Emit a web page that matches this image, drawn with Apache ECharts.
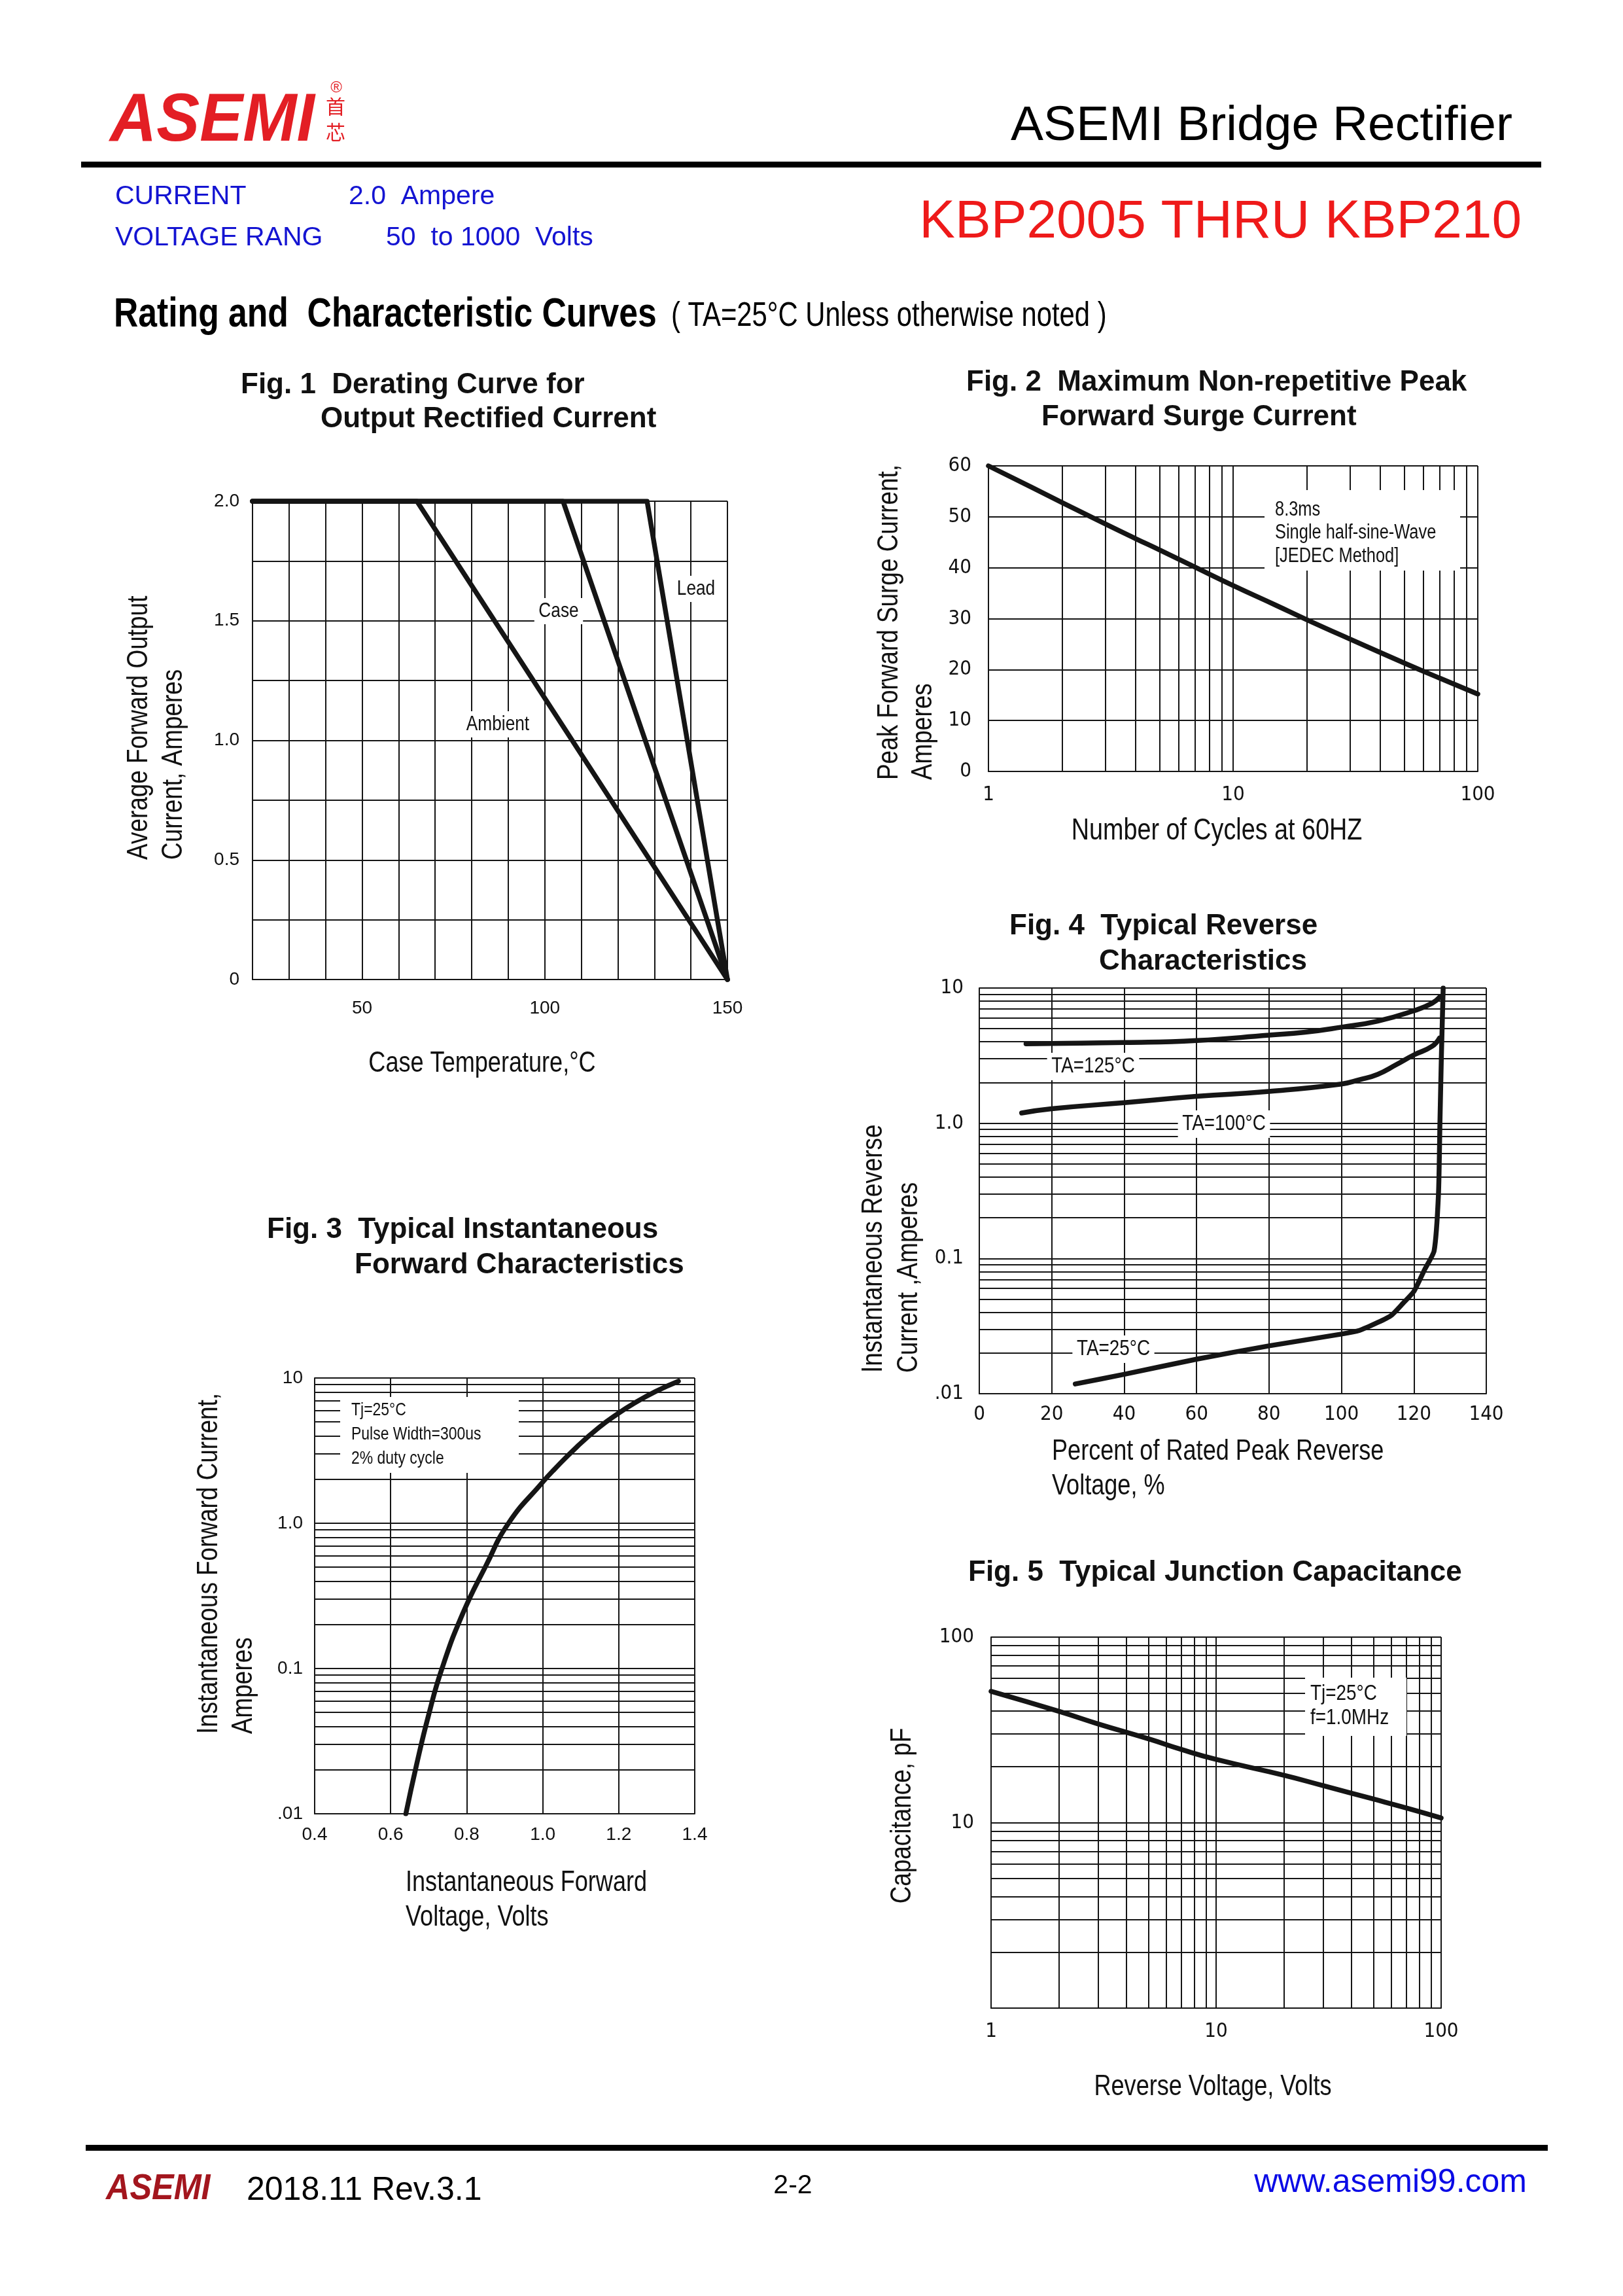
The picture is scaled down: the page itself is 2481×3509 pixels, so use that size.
<!DOCTYPE html>
<html><head><meta charset="utf-8">
<script src="https://cdn.jsdelivr.net/npm/echarts@6/dist/echarts.min.js"></script>
<style>html,body{margin:0;padding:0;background:#fff}#c{width:2481px;height:3509px}</style>
</head><body><div id="c"></div>
<script>
// ---------------- data ----------------
// Fig.1 derating curves  [temperature °C, current A]
const fig1Ambient = [[20, 2.0], [65, 2.0], [150, 0]];
const fig1Case    = [[20, 2.0], [105, 2.0], [150, 0]];
const fig1Lead    = [[20, 2.0], [128, 2.0], [150, 0]];
const fig1XTicks  = [50, 100, 150];
const fig1YTicks  = {0: '0', 0.5: '0.5', 1: '1.0', 1.5: '1.5', 2: '2.0'};

// Fig.2 surge current vs cycles
const fig2Cycles = [1, 1.5, 2, 3, 4, 5, 7, 10, 15, 20, 30, 50, 70, 100];
const fig2Surge  = [60, 55.8, 52.8, 48.6, 45.7, 43.5, 40.1, 36.5, 32.6, 29.8, 26.0, 21.3, 18.3, 15.2];

// Fig.3 forward characteristics
const fig3Volt = [0.64, 0.668, 0.70, 0.735, 0.79, 0.85, 0.91, 1.0, 1.03, 1.09, 1.147, 1.2, 1.236, 1.297, 1.357];
const fig3Amp  = [0.01, 0.0217, 0.048, 0.1, 0.24, 0.506, 1.0, 1.92, 2.34, 3.36, 4.54, 5.73, 6.59, 8.07, 9.5];

// Fig.4 reverse characteristics
const fig4Pct125 = [12.9, 20, 40, 60, 80, 90, 100, 110, 120, 125, 127.2];
const fig4Cur125 = [3.87, 3.89, 3.95, 4.09, 4.48, 4.71, 5.13, 5.69, 6.79, 7.71, 8.6];
const fig4Pct100 = [11.7, 20, 40, 60, 80, 100, 105, 110, 115, 120, 125, 127.1];
const fig4Cur100 = [1.19, 1.28, 1.42, 1.58, 1.72, 1.95, 2.1, 2.3, 2.7, 3.2, 3.7, 4.27];
const fig4Pct25  = [26.5, 40, 60, 80, 100, 105, 110, 113.8, 117, 120, 123, 125.6, 126.8, 127.2, 127.6, 128.1];
const fig4Cur25  = [0.0118, 0.0139, 0.018, 0.0226, 0.0276, 0.0294, 0.0336, 0.038, 0.0466, 0.057, 0.083, 0.114, 0.3, 1.0, 3.1, 10];

// Fig.5 junction capacitance
const fig5Volt = [1, 2, 3, 5, 7, 10, 20, 30, 50, 70, 100];
const fig5Cap  = [51, 39.8, 34, 28.3, 24.8, 21.9, 18, 15.8, 13.4, 12, 10.6];

// tick label texts
const decadeLabels = {'-2': '.01', '-1': '0.1', '0': '1.0', '1': '10', '2': '100'};
const decadeLabelsInt = {'0': '1', '1': '10', '2': '100'};

// ---------------- helpers ----------------
const COND = "'DejaVu Sans Condensed','Liberation Sans',sans-serif";
const ARIAL = "'Liberation Sans',Arial,Helvetica,sans-serif";
const INK = '#151515';
const NS = 0.82; // horizontal squeeze to imitate a condensed face
const zip = (a, b) => a.map((v, i) => [v, b[i]]);
function logMinors(e0, e1) { // minor gridline values 2..9 x 10^k
  const out = [];
  for (let e = e0; e < e1; e++) for (let m = 2; m <= 9; m++) out.push(+(m * Math.pow(10, e)).toPrecision(6));
  return out;
}
function gridSeries(idx, data, xs, ys) {
  const d = [];
  (xs || []).forEach(v => d.push({xAxis: v}));
  (ys || []).forEach(v => d.push({yAxis: v}));
  return {
    type: 'line', xAxisIndex: idx, yAxisIndex: idx, data: data, symbol: 'none', silent: true, z: 1,
    lineStyle: {opacity: 0}, animation: false,
    markLine: {silent: true, symbol: ['none', 'none'], z: 1, animation: false, label: {show: false},
      emphasis: {disabled: true}, lineStyle: {color: INK, width: 2, type: 'solid'}, data: d}
  };
}
function curve(idx, data, smooth) {
  return {type: 'line', xAxisIndex: idx, yAxisIndex: idx, data: data, symbol: 'none', showSymbol: false,
    smooth: smooth, z: 5, silent: true, animation: false,
    lineStyle: {color: INK, width: 7.5, cap: 'round', join: 'round'}};
}
const axLine = {show: true, lineStyle: {color: INK, width: 2}};
const splitL = {show: true, lineStyle: {color: INK, width: 2}};
function logFmt(map) { return v => { const e = String(Math.round(Math.log10(v))); return map[e] || ''; }; }

function txt(x, y, text, o) {
  o = o || {};
  const st = {text: text, fontSize: o.size || 40, fontFamily: o.family || ARIAL, fontWeight: o.weight || 'normal',
    fontStyle: o.style || 'normal', fill: o.color || '#111',
    align: o.align || 'left', verticalAlign: o.valign || 'middle',
    textAlign: o.align || 'left', textVerticalAlign: o.valign || 'middle'};
  if (o.bg) { st.backgroundColor = '#fff'; st.padding = o.pad || [4, 8]; }
  const sx = o.sx === undefined ? NS : o.sx;
  return {type: 'text', x: x, y: y, rotation: o.rot || 0, scaleX: sx, scaleY: 1, z: o.z || 3, silent: true, style: st};
}
function rect(x, y, w, h, fill, z) {
  return {type: 'rect', z: z || 3, silent: true, shape: {x: x, y: y, width: w, height: h}, style: {fill: fill}};
}
const vt = (x, y, s, size) => txt(x, y, s, {rot: Math.PI / 2, size: size || 45});

// ---------------- grids ----------------
const grids = [
  {left: 386, top: 766, width: 726, height: 731},   // fig1
  {left: 1511, top: 712, width: 748, height: 467},  // fig2
  {left: 481, top: 2106, width: 581, height: 666},  // fig3
  {left: 1497, top: 1510, width: 775, height: 620}, // fig4
  {left: 1515, top: 2502, width: 688, height: 567}  // fig5
];

const lblA = (size, margin) => ({color: '#111', fontFamily: ARIAL, fontSize: size, margin: margin, interval: 0});
const lblN = (size, margin) => ({color: '#111', fontFamily: COND, fontSize: size, margin: margin, interval: 0});

const xAxes = [
  {gridIndex: 0, type: 'value', min: 20, max: 150, interval: 10, axisLine: axLine, axisTick: {show: false}, splitLine: splitL,
    axisLabel: Object.assign(lblA(28, 30), {formatter: v => fig1XTicks.indexOf(v) >= 0 ? String(v) : ''})},
  {gridIndex: 1, type: 'log', logBase: 10, min: 1, max: 100, axisLine: axLine, axisTick: {show: false}, splitLine: splitL,
    axisLabel: Object.assign(lblN(31, 20), {formatter: logFmt(decadeLabelsInt)})},
  {gridIndex: 2, type: 'value', min: 0.4, max: 1.4, interval: 0.2, axisLine: axLine, axisTick: {show: false}, splitLine: splitL,
    axisLabel: Object.assign(lblA(28, 18), {formatter: v => v.toFixed(1)})},
  {gridIndex: 3, type: 'value', min: 0, max: 140, interval: 20, axisLine: axLine, axisTick: {show: false}, splitLine: splitL,
    axisLabel: lblN(31, 16)},
  {gridIndex: 4, type: 'log', logBase: 10, min: 1, max: 100, axisLine: axLine, axisTick: {show: false}, splitLine: splitL,
    axisLabel: Object.assign(lblN(31, 20), {formatter: logFmt(decadeLabelsInt)})}
];
const yAxes = [
  {gridIndex: 0, type: 'value', min: 0, max: 2, interval: 0.25, axisLine: axLine, axisTick: {show: false}, splitLine: splitL,
    axisLabel: Object.assign(lblA(28, 20), {formatter: v => fig1YTicks[v] !== undefined ? fig1YTicks[v] : ''})},
  {gridIndex: 1, type: 'value', min: 0, max: 60, interval: 10, axisLine: axLine, axisTick: {show: false}, splitLine: splitL,
    axisLabel: lblN(31, 26)},
  {gridIndex: 2, type: 'log', logBase: 10, min: 0.01, max: 10, axisLine: axLine, axisTick: {show: false}, splitLine: splitL,
    axisLabel: Object.assign(lblA(28, 18), {formatter: logFmt(decadeLabels)})},
  {gridIndex: 3, type: 'log', logBase: 10, min: 0.01, max: 10, axisLine: axLine, axisTick: {show: false}, splitLine: splitL,
    axisLabel: Object.assign(lblN(31, 24), {formatter: logFmt(decadeLabels)})},
  {gridIndex: 4, type: 'log', logBase: 10, min: 1, max: 100, axisLine: axLine, axisTick: {show: false}, splitLine: splitL,
    axisLabel: Object.assign(lblN(31, 26), {formatter: v => { const e = Math.round(Math.log10(v)); return e >= 1 ? decadeLabelsInt[String(e)] : ''; }})}
];

const d2 = zip(fig2Cycles, fig2Surge), d3 = zip(fig3Volt, fig3Amp);
const d4a = zip(fig4Pct125, fig4Cur125), d4b = zip(fig4Pct100, fig4Cur100), d4c = zip(fig4Pct25, fig4Cur25);
const d5 = zip(fig5Volt, fig5Cap);

const series = [
  curve(0, fig1Ambient, false), curve(0, fig1Case, false), curve(0, fig1Lead, false),
  gridSeries(1, d2, logMinors(0, 2), []), curve(1, d2, 0.5),
  gridSeries(2, d3, [], logMinors(-2, 1)), curve(2, d3, 0.5),
  gridSeries(3, d4c, [], logMinors(-2, 1)), curve(3, d4a, 0.5), curve(3, d4b, 0.5), curve(3, d4c, 0.2),
  gridSeries(4, d5, logMinors(0, 2), logMinors(0, 2)), curve(4, d5, 0.5)
];

// ---------------- page texts ----------------
const BLUE = '#1414d2', RED = '#ee1a1a';
const g = [];
// header
g.push(txt(168, 186, 'ASEMI', {weight: 'bold', style: 'italic', size: 104, color: '#e31e24', sx: 0.95}));
g.push(txt(513, 163, '首', {family: "'Noto Sans CJK SC',sans-serif", size: 30, color: '#e31e24', align: 'center', sx: 1}));
g.push(txt(513, 202, '芯', {family: "'Noto Sans CJK SC',sans-serif", size: 30, color: '#e31e24', align: 'center', sx: 1}));
g.push(txt(514, 134, '®', {size: 24, color: '#e31e24', align: 'center', sx: 1}));
g.push(txt(2312, 193, 'ASEMI Bridge Rectifier', {size: 75, color: '#000', align: 'right', sx: 1}));
g.push(rect(124, 247, 2232, 9, '#000'));
g.push(txt(176, 301, 'CURRENT', {size: 41, color: BLUE, sx: 1}));
g.push(txt(533, 301, '2.0  Ampere', {size: 41, color: BLUE, sx: 1}));
g.push(txt(176, 364, 'VOLTAGE RANG', {size: 41, color: BLUE, sx: 1}));
g.push(txt(590, 364, '50  to 1000  Volts', {size: 41, color: BLUE, sx: 1}));
g.push(txt(2326, 340, 'KBP2005 THRU KBP210', {size: 82, color: RED, align: 'right', sx: 1}));
g.push(txt(174, 482, 'Rating and  Characteristic Curves', {weight: 'bold', size: 63, color: '#000'}));
g.push(txt(1026, 484, '( TA=25°C Unless otherwise noted )', {size: 51, color: '#000'}));

// figure titles
const T = {weight: 'bold', size: 44, color: '#111', sx: 1};
g.push(txt(368, 589, 'Fig. 1  Derating Curve for', T));
g.push(txt(490, 641, 'Output Rectified Current', T));
g.push(txt(1477, 585, 'Fig. 2  Maximum Non-repetitive Peak', T));
g.push(txt(1592, 638, 'Forward Surge Current', T));
g.push(txt(1543, 1416, 'Fig. 4  Typical Reverse', T));
g.push(txt(1680, 1470, 'Characteristics', T));
g.push(txt(408, 1880, 'Fig. 3  Typical Instantaneous', T));
g.push(txt(542, 1934, 'Forward Characteristics', T));
g.push(txt(1480, 2404, 'Fig. 5  Typical Junction Capacitance', T));

// axis titles
g.push(vt(213, 1314, 'Average Forward Output'));
g.push(vt(266, 1314, 'Current, Amperes'));
g.push(txt(737, 1626, 'Case Temperature,°C', {size: 44, align: 'center'}));
g.push(vt(1360, 1192, 'Peak Forward Surge Current,'));
g.push(vt(1412, 1192, 'Amperes'));
g.push(txt(1860, 1270, 'Number of Cycles at 60HZ', {size: 46, align: 'center'}));
g.push(vt(320, 2650, 'Instantaneous Forward Current,'));
g.push(vt(373, 2650, 'Amperes'));
g.push(txt(620, 2878, 'Instantaneous Forward', {size: 44}));
g.push(txt(620, 2931, 'Voltage, Volts', {size: 44}));
g.push(vt(1336, 2098, 'Instantaneous Reverse'));
g.push(vt(1390, 2098, 'Current ,Amperes'));
g.push(txt(1608, 2219, 'Percent of Rated Peak Reverse', {size: 44}));
g.push(txt(1608, 2272, 'Voltage, %', {size: 44}));
g.push(txt(1380, 2775, 'Capacitance, pF', {rot: Math.PI / 2, size: 45, align: 'center'}));
g.push(txt(1854, 3190, 'Reverse Voltage, Volts', {size: 44, align: 'center'}));

// in-plot annotations (white boxes interrupt the grid)
g.push(txt(1064, 900, 'Lead', {size: 32, align: 'center', bg: true}));
g.push(txt(854, 934, 'Case', {size: 32, align: 'center', bg: true}));
g.push(txt(761, 1107, 'Ambient', {size: 32, align: 'center', bg: true}));

g.push(rect(1933, 749, 299, 123, '#fff'));
g.push(txt(1949, 779, '8.3ms', {size: 31}));
g.push(txt(1949, 814, 'Single half-sine-Wave', {size: 31}));
g.push(txt(1949, 850, '[JEDEC Method]', {size: 31}));

g.push(rect(520, 2135, 273, 116, '#fff'));
g.push(txt(537, 2155, 'Tj=25°C', {size: 28}));
g.push(txt(537, 2192, 'Pulse Width=300us', {size: 28}));
g.push(txt(537, 2229, '2% duty cycle', {size: 28}));

g.push(txt(1671, 1630, 'TA=125°C', {size: 34, align: 'center', bg: true}));
g.push(txt(1871, 1718, 'TA=100°C', {size: 34, align: 'center', bg: true}));
g.push(txt(1702, 2062, 'TA=25°C', {size: 34, align: 'center', bg: true}));

g.push(rect(1995, 2564, 155, 89, '#fff'));
g.push(txt(2003, 2589, 'Tj=25°C', {size: 34}));
g.push(txt(2003, 2626, 'f=1.0MHz', {size: 34}));

// footer
g.push(rect(131, 3278, 2235, 9, '#000'));
g.push(txt(162, 3346, 'ASEMI', {weight: 'bold', style: 'italic', size: 56, color: '#a3161e', sx: 0.9}));
g.push(txt(377, 3348, '2018.11 Rev.3.1', {size: 50, color: '#000', sx: 1}));
g.push(txt(1212, 3341, '2-2', {size: 41, color: '#000', align: 'center', sx: 1}));
g.push(txt(2334, 3336, 'www.asemi99.com', {size: 50, color: '#0a0ae6', align: 'right', sx: 1}));

const chart = echarts.init(document.getElementById('c'), null, {renderer: 'canvas'});
chart.setOption({
  backgroundColor: '#fff',
  animation: false,
  grid: grids,
  xAxis: xAxes,
  yAxis: yAxes,
  series: series,
  graphic: {elements: g}
});
</script></body></html>
